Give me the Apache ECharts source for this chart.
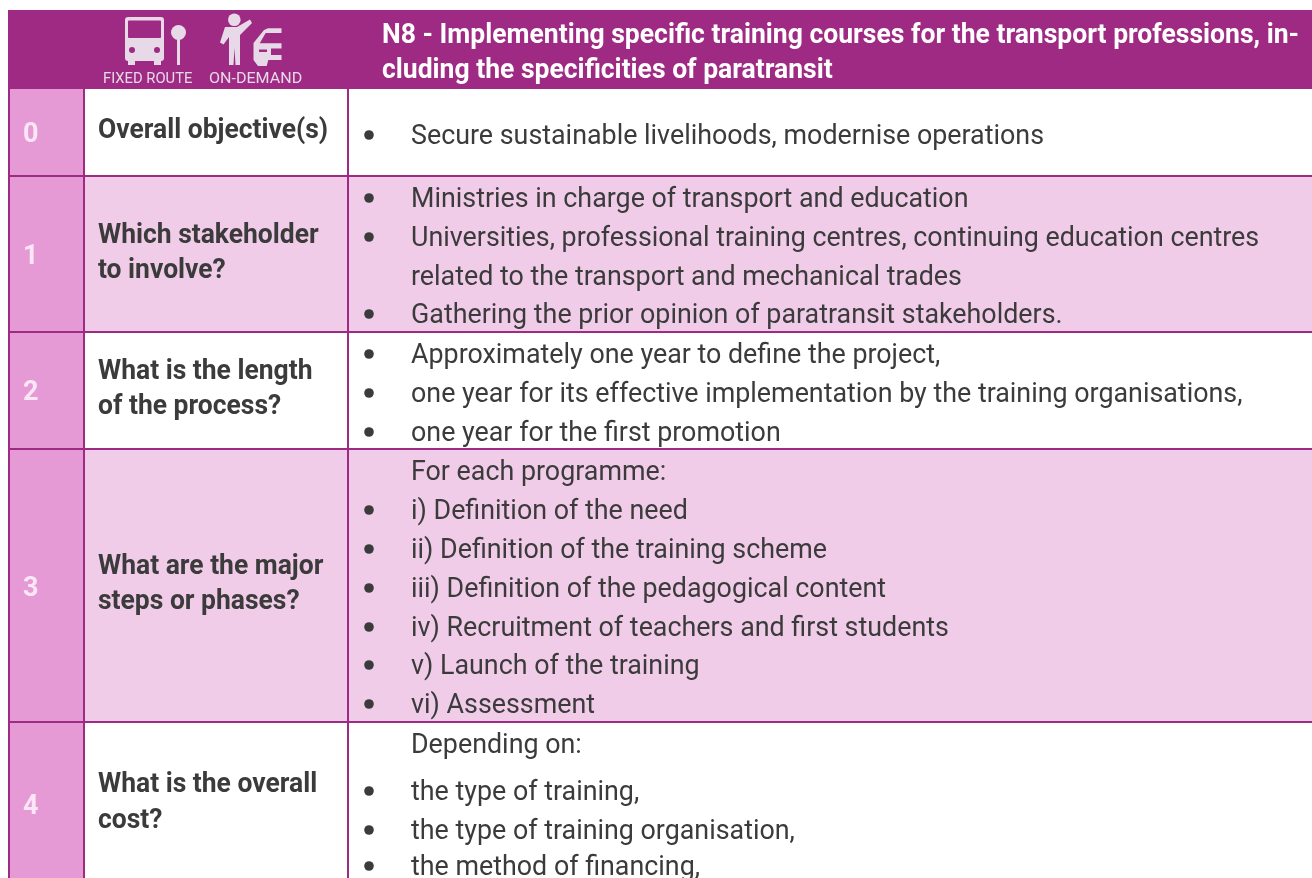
<!DOCTYPE html>
<html><head><meta charset="utf-8">
<style>html,body{margin:0;padding:0;background:#fff}#c{width:1312px;height:878px}</style>
<script src="https://cdn.jsdelivr.net/npm/echarts@6/dist/echarts.min.js"></script>
</head><body><div id="c"></div>
<script>
// ---- content ----
var headerTitle = ['N8 - Implementing specific training courses for the transport professions, in-', 'cluding the specificities of paratransit'];
var iconLabels = ['FIXED ROUTE', 'ON-DEMAND'];
var rowNumbers = ['0', '1', '2', '3', '4'];
var rowQuestions = [
  ['Overall objective(s)'],
  ['Which stakeholder', 'to involve?'],
  ['What is the length', 'of the process?'],
  ['What are the major', 'steps or phases?'],
  ['What is the overall', 'cost?']
];
var rowItems = [
  ['Secure sustainable livelihoods, modernise operations'],
  ['Ministries in charge of transport and education',
   'Universities, professional training centres, continuing education centres',
   'related to the transport and mechanical trades',
   'Gathering the prior opinion of paratransit stakeholders.'],
  ['Approximately one year to define the project,',
   'one year for its effective implementation by the training organisations,',
   'one year for the first promotion'],
  ['For each programme:', 'i) Definition of the need', 'ii) Definition of the training scheme',
   'iii) Definition of the pedagogical content', 'iv) Recruitment of teachers and first students',
   'v) Launch of the training', 'vi) Assessment'],
  ['Depending on:', 'the type of training,', 'the type of training organisation,', 'the method of financing,']
];
var rowBullets = [
  [1],
  [1, 1, 0, 1],
  [1, 1, 1],
  [0, 1, 1, 1, 1, 1, 1],
  [0, 1, 1, 1]
];

// ---- layout (separate from content) ----
var L = {
  left: 8, right: 1312, top: 10, headBottom: 89,
  rowEdges: [89, 176, 332, 449, 722, 880],
  col1: 84, col2: 348,
  numX: 23, qX: 98, bulletX: 369, itemX: 411,
  numY: [135, 257, 393, 589, 807],
  qY: [[131], [236, 271], [372, 407], [567, 602], [785, 821]],
  itemY: [[137], [200, 239, 278, 316], [356, 395, 434], [473, 512, 551, 590, 629, 667, 706], [746, 793, 832, 868]],
  bulletDy: -2
};
var C = { purple: '#9e2a83', pink: '#e59ad6', band: '#f0cce9', ink: '#3b3b3b', icon: '#e8d9e8', num: '#fbe6f6' };
var F = 'Roboto, sans-serif';

var els = [];
function rect(x, y, w, h, fill, r) {
  els.push({ type: 'rect', shape: { x: x, y: y, width: w, height: h, r: r || 0 }, style: { fill: fill }, silent: true });
}
function circle(x, y, r, fill) {
  els.push({ type: 'circle', shape: { cx: x, cy: y, r: r }, style: { fill: fill }, silent: true });
}
function poly(points, fill) {
  els.push({ type: 'polygon', shape: { points: points }, style: { fill: fill }, silent: true });
}
function text(s, x, y, size, weight, fill, sx) {
  els.push({ type: 'text', x: x, y: y, scaleX: sx || 1, silent: true,
    style: { text: s, font: weight + ' ' + size + 'px ' + F, fill: fill, verticalAlign: 'middle', align: 'left' } });
}

// rows
rowNumbers.forEach(function (n, i) {
  var y0 = L.rowEdges[i], y1 = L.rowEdges[i + 1];
  rect(L.left, y0, L.col1 - L.left, y1 - y0, C.pink);
  rect(L.col1, y0, L.right - L.col1, y1 - y0, i % 2 === 1 ? C.band : '#ffffff');
});

// grid lines
L.rowEdges.slice(1, 5).forEach(function (y) { rect(L.left, y - 1, L.right - L.left, 2, C.purple); });
rect(L.left, L.headBottom, 2, 800, C.purple);
rect(L.col1 - 1, L.headBottom, 2, 800, C.purple);
rect(L.col2 - 1, L.headBottom, 2, 800, C.purple);

// header
rect(L.left, L.top, L.right - L.left, L.headBottom - L.top, C.purple);
headerTitle.forEach(function (s, i) { text(s, 382, [36, 71][i], 27, 700, '#ffffff', 0.982); });
text(iconLabels[0], 103, 79, 15, 400, C.icon, 0.985);
text(iconLabels[1], 209, 79, 15, 400, C.icon, 1.07);

// bus icon
rect(125, 17, 39, 44, C.icon, 3);
rect(128, 20.5, 33, 17.5, C.purple, 1);
rect(128, 58, 7, 7, C.icon);
rect(154, 58, 7, 7, C.icon);
circle(132, 50, 3, C.purple);
circle(157, 50, 3, C.purple);
circle(178.5, 32.5, 7.5, C.icon);
rect(177, 33, 3, 32, C.icon);
// person icon
circle(234.3, 19.8, 6.3, C.icon);
poly([[225, 27], [237, 27], [250, 19.5], [252, 23], [240, 35], [240, 65], [235.5, 65], [234.5, 48], [233.5, 65], [229, 65], [229, 37], [223.5, 44.5], [220, 42.5]], C.icon);
// car icon
poly([[281.5, 28.3], [268, 28.3], [264, 30], [253.5, 43], [253.5, 60], [258, 66], [266.7, 66], [268.3, 60], [281.5, 60]], C.icon);
poly([[265.7, 33], [259.7, 43.3], [282, 43.3], [282, 33]], C.purple);
rect(271, 48.5, 11, 6.5, C.purple);
rect(259, 49.5, 8, 2.5, C.purple);

// text
rowNumbers.forEach(function (n, i) {
  text(n, L.numX, L.numY[i], 27, 700, C.num);
  rowQuestions[i].forEach(function (s, j) { text(s, L.qX, L.qY[i][j], 27, 700, C.ink, 0.98); });
  rowItems[i].forEach(function (s, j) {
    text(s, L.itemX, L.itemY[i][j], 27, 400, C.ink, 0.994);
    if (rowBullets[i][j]) circle(L.bulletX, L.itemY[i][j] + L.bulletDy, 4.8, C.ink);
  });
});

var chart = echarts.init(document.getElementById('c'), null, { renderer: 'canvas' });
chart.setOption({ animation: false, backgroundColor: '#ffffff', graphic: { elements: els } });
</script></body></html>
